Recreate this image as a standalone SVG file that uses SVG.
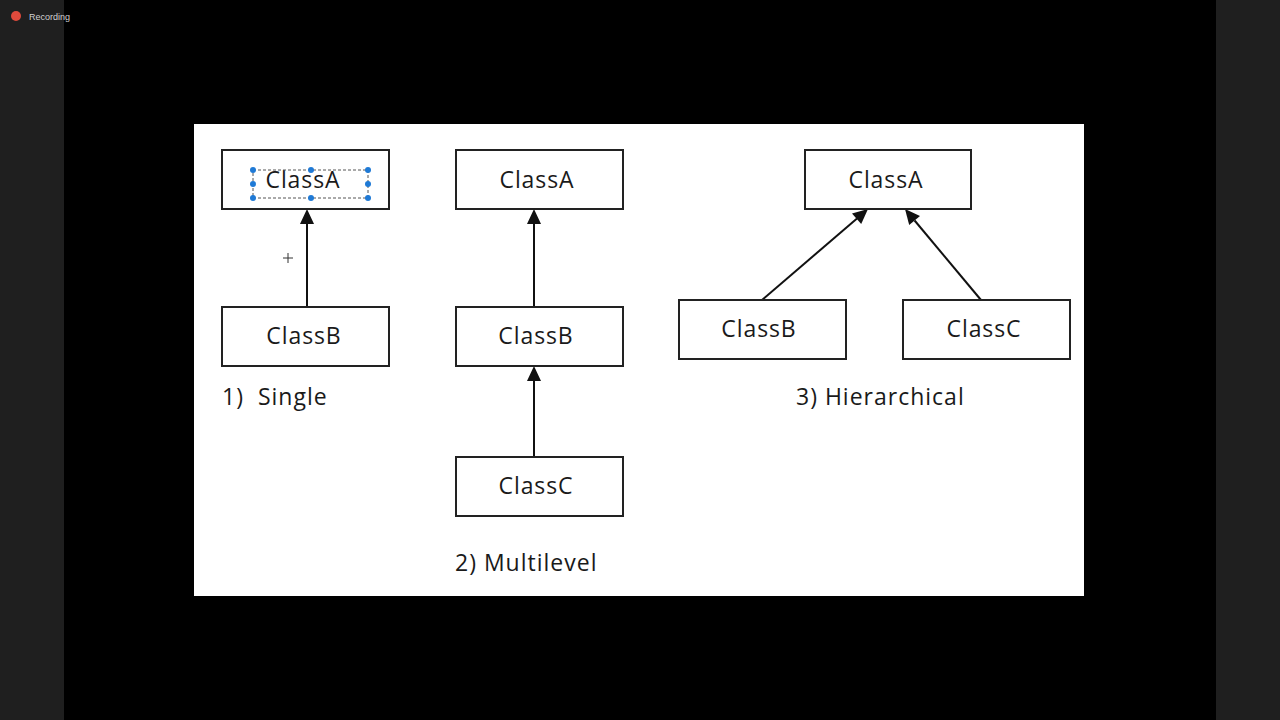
<svg xmlns="http://www.w3.org/2000/svg" width="1280" height="720" viewBox="0 0 1280 720">
<defs>
<style>
.box{fill:#fff;stroke:#222;stroke-width:2}
.t{font-family:"Open Sans","Liberation Sans",sans-serif;font-size:23px;letter-spacing:0.9px;fill:#1a1a1a;text-anchor:middle}
.lbl{font-family:"Open Sans","Liberation Sans",sans-serif;font-size:23px;letter-spacing:1px;fill:#1a1a1a;white-space:pre}
.ln{stroke:#111;stroke-width:2;fill:none}
.head{fill:#111}
.h{fill:#1f7ad6}
</style>
</defs>
<rect x="0" y="0" width="1280" height="720" fill="#000"/>
<rect x="0" y="0" width="64" height="720" fill="#1f1f1f"/>
<rect x="1216" y="0" width="64" height="720" fill="#1f1f1f"/>
<circle cx="16" cy="16" r="5" fill="#e04a3c"/>
<text x="29" y="20" font-family="Liberation Sans, sans-serif" font-size="9" fill="#d0d0d0">Recording</text>
<rect x="194" y="124" width="890" height="472" fill="#fff"/>

<g id="connectors">
<line class="ln" x1="307" y1="307" x2="307" y2="222"/>
<path class="head" d="M307,209 L300,224 L314,224 Z"/>
<line class="ln" x1="534" y1="307" x2="534" y2="222"/>
<path class="head" d="M534,209 L527,224 L541,224 Z"/>
<line class="ln" x1="534" y1="457" x2="534" y2="380"/>
<path class="head" d="M534,366 L527,381 L541,381 Z"/>
<line class="ln" x1="762" y1="300" x2="857" y2="218.5"/>
<path class="head" d="M868,209 L861.2,224.1 L852,213.5 Z"/>
<line class="ln" x1="981" y1="300" x2="914.6" y2="220.5"/>
<path class="head" d="M905,209 L920,216 L909.2,225 Z"/>
</g>

<g id="single-a">
<rect class="box" x="222" y="150" width="167" height="59"/>
<text class="t" x="303" y="188">ClassA</text>
<rect x="253" y="170" width="115" height="28" fill="none" stroke="#555" stroke-width="1" stroke-dasharray="3,2"/>
<circle class="h" cx="253" cy="170" r="3"/><circle class="h" cx="311" cy="170" r="3"/><circle class="h" cx="368" cy="170" r="3"/>
<circle class="h" cx="253" cy="184" r="3"/><circle class="h" cx="368" cy="184" r="3"/>
<circle class="h" cx="253" cy="198" r="3"/><circle class="h" cx="311" cy="198" r="3"/><circle class="h" cx="368" cy="198" r="3"/>
</g>
<g id="single-b">
<rect class="box" x="222" y="307" width="167" height="59"/>
<text class="t" x="304" y="344">ClassB</text>
</g>
<path d="M283,258 h10 M288,253 v10" stroke="#333" stroke-width="1"/>
<text class="lbl" x="222" y="405">1)  Single</text>

<g id="multi-a">
<rect class="box" x="456" y="150" width="167" height="59"/>
<text class="t" x="537" y="188">ClassA</text>
</g>
<g id="multi-b">
<rect class="box" x="456" y="307" width="167" height="59"/>
<text class="t" x="536" y="344">ClassB</text>
</g>
<g id="multi-c">
<rect class="box" x="456" y="457" width="167" height="59"/>
<text class="t" x="536" y="494">ClassC</text>
</g>
<text class="lbl" x="455" y="571">2) Multilevel</text>

<g id="hier-a">
<rect class="box" x="805" y="150" width="166" height="59"/>
<text class="t" x="886" y="188">ClassA</text>
</g>
<g id="hier-b">
<rect class="box" x="679" y="300" width="167" height="59"/>
<text class="t" x="759" y="337">ClassB</text>
</g>
<g id="hier-c">
<rect class="box" x="903" y="300" width="167" height="59"/>
<text class="t" x="984" y="337">ClassC</text>
</g>
<text class="lbl" x="796" y="405">3) Hierarchical</text>
</svg>
